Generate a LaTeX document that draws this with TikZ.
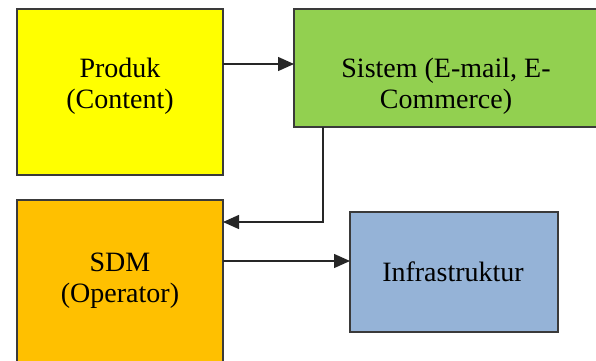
\documentclass[tikz,border=0pt]{standalone}
\usepackage{fontspec}
\setmainfont{Liberation Serif}
\usetikzlibrary{arrows.meta}
\definecolor{boxline}{HTML}{3A3A3A}
\definecolor{cyellow}{HTML}{FFFF00}
\definecolor{cgreen}{HTML}{92D050}
\definecolor{corange}{HTML}{FFC000}
\definecolor{cblue}{HTML}{95B3D7}
\tikzset{
  block/.style={draw=boxline, line width=1.4pt, inner sep=0pt, outer sep=0pt},
  boxtext/.style={align=center, inner sep=0pt, font=\fontsize{28}{31}\selectfont\rmfamily},
  link/.style={draw=black!85, line width=1.4pt, -{Triangle[length=16pt,width=14pt]}}
}
\begin{document}
\begin{tikzpicture}[x=1pt,y=-1pt]
  \useasboundingbox (0,0) rectangle (596,360);
  \clip (0,0) rectangle (596,360);
  % boxes
  \node[block, fill=cyellow, minimum width=206pt, minimum height=166pt, anchor=north west] (prod) at (17,9) {};
  \node[block, fill=cgreen, minimum width=306pt, minimum height=118pt, anchor=north west] (sys) at (294,9) {};
  \node[block, fill=corange, minimum width=206pt, minimum height=180pt, anchor=north west] (sdm) at (17,200) {};
  \node[block, fill=cblue, minimum width=208pt, minimum height=120pt, anchor=north west] (infra) at (350,212) {};
  % texts
  \node[boxtext] (tprod) at (120,86) {Produk\\(Content)};
  \node[boxtext] (tsys) at (446,86) {Sistem (E-mail, E-\\Commerce)};
  \node[boxtext] (tsdm) at (120,281) {SDM\\(Operator)};
  \node[boxtext] (tinfra) at (453,272) {Infrastruktur};
  % connectors
  \coordinate (bend) at (323,222);
  \draw[link] (prod.east |- 0,64) -- (sys.west |- 0,64);
  \draw[link] (sys.south -| bend) -- (bend) -- (sdm.east |- bend);
  \draw[link] (sdm.east |- 0,261) -- (infra.west |- 0,261);
\end{tikzpicture}
\end{document}
